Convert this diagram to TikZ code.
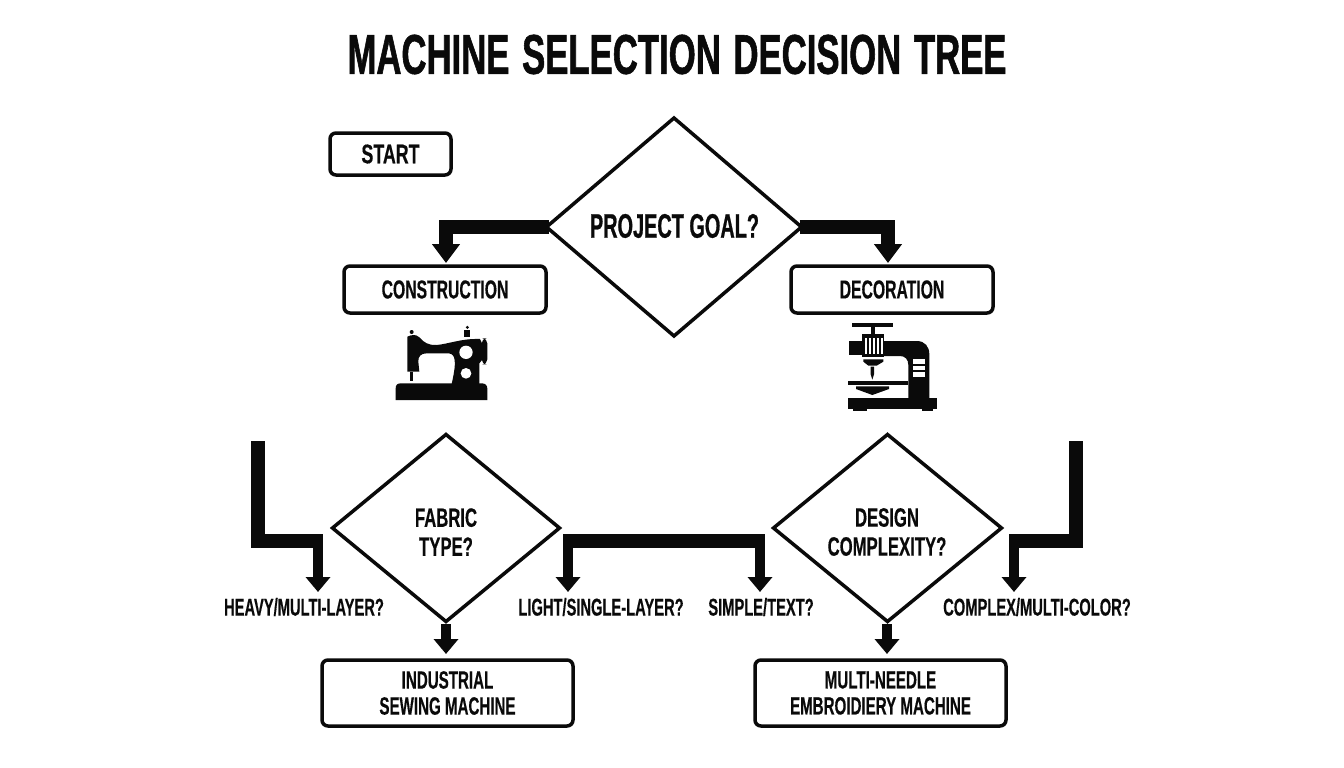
\documentclass[tikz,border=0pt]{standalone}
\usepackage{fontspec}
\setmainfont{Liberation Sans Bold}[FakeStretch=0.605,FakeBold=0.35]
\newfontface\titleface{Liberation Sans Bold}[FakeStretch=0.62,FakeBold=1.0]
\newfontface\startface{Liberation Sans Bold}[FakeStretch=0.66,FakeBold=0.35]
\newfontface\goalface{Liberation Sans Bold}[FakeStretch=0.585,FakeBold=0.6]
\newfontface\decface{Liberation Sans Bold}[FakeStretch=0.63,FakeBold=0.35]
\usetikzlibrary{arrows.meta,shapes.geometric}
\definecolor{ink}{HTML}{0A0A0A}
\tikzset{
 x=1pt,y=-1pt,
 every node/.style={text=ink},
 box/.style={draw=ink,line width=3.5pt,rounded corners=6pt,fill=white,align=center,inner sep=0pt,font=\fontsize{25}{26}\selectfont},
 dec/.style={diamond,draw=ink,line width=3.5pt,fill=white,inner sep=0pt,outer sep=0pt},
 dectext/.style={align=center,font=\decface\fontsize{26.5}{29}\selectfont},
 opt/.style={font=\fontsize{24.3}{26}\selectfont,inner sep=0pt},
 heavy/.style={draw=ink,line width=14pt},
 shaft/.style={draw=ink,line width=10.5pt,-{Triangle[width=24pt,length=15pt]}},
}
\begin{document}
\begin{tikzpicture}
\useasboundingbox (0,0) rectangle (1344,768);
\fill[white] (0,0) rectangle (1344,768);
\node[font=\titleface\fontsize{56}{58}\selectfont,inner sep=0pt] (title) at (677,54.5) {MACHINE\hspace{3pt} SELECTION\hspace{3pt} DECISION\hspace{3pt} TREE};
\node[box,minimum width=121pt,minimum height=42pt,font=\startface\fontsize{27}{28}\selectfont] (start) at (390.5,154) {START};
\node[dec,minimum width=255pt,minimum height=218pt] (goal) at (674,227) {};
\node[font=\goalface\fontsize{34}{36}\selectfont,inner sep=0pt] (goaltxt) at (674.5,226) {PROJECT GOAL?};
\node[box,minimum width=202pt,minimum height=47pt,font=\fontsize{26}{27}\selectfont] (cons) at (445,289.5) {CONSTRUCTION};
\node[box,minimum width=202pt,minimum height=47pt,font=\fontsize{26}{27}\selectfont] (deco) at (892,289.5) {DECORATION};
\node[dec,minimum width=227pt,minimum height=187pt] (fabric) at (446,528) {};
\node[dectext] (fabrictxt) at (446,532) {FABRIC\\TYPE?};
\node[dec,minimum width=228pt,minimum height=187pt] (design) at (887.5,528) {};
\node[dectext] (designtxt) at (887,532) {DESIGN\\COMPLEXITY?};
\node[opt] (heavylab) at (304,607) {HEAVY/MULTI-LAYER?};
\node[opt] (light) at (601,607) {LIGHT/SINGLE-LAYER?};
\node[opt] (simple) at (761,607) {SIMPLE/TEXT?};
\node[opt] (complex) at (1037,607) {COMPLEX/MULTI-COLOR?};
\node[box,minimum width=251pt,minimum height=66pt] (ind) at (447.5,693) {INDUSTRIAL\\SEWING MACHINE};
\node[box,minimum width=251pt,minimum height=66pt] (multi) at (880.5,693) {MULTI-NEEDLE\\EMBROIDIERY MACHINE};
% connectors
\draw[draw=ink,line width=14pt,-{Triangle[width=27pt,length=19pt]}] (goal.west) ++(2,0) -- (446,227) -- (446,263);
\draw[draw=ink,line width=14pt,-{Triangle[width=27pt,length=19pt]}] (goal.east) ++(-2,0) -- (888,227) -- (888,263);
\coordinate (l0) at (258,441);\coordinate (l1) at (258,541);\coordinate (l2) at (323,541);\coordinate (l3) at (318,541);
\draw[heavy] (l0) -- (l1) -- (l2);
\draw[shaft] (l3) -- (318,592);
\coordinate (m0) at (563,541);\coordinate (m1) at (765,541);
\draw[heavy] (m0) -- (m1);
\draw[shaft] (568,541) -- (568,592);
\draw[shaft] (760,541) -- (760,592);
\coordinate (r0) at (1076,441);\coordinate (r1) at (1076,541);\coordinate (r2) at (1009,541);
\draw[heavy] (r0) -- (r1) -- (r2);
\draw[shaft] (1014,541) -- (1014,592);
\coordinate (fb) at (446,624);\coordinate (db) at (887,624);
\draw[shaft] (fb) -- (446,654);
\draw[shaft] (db) -- (887,654);
% sewing machine icon
\begin{scope}[shift={(380,320)},scale=1/3]
 \fill[ink] (47,240) -- (47,205) .. controls (47,195) and (52,190) .. (62,190) -- (305,190) .. controls (316,190) and (322,196) .. (322,206) -- (322,240) -- cycle;
 \fill[ink] (82,155) -- (82,50) .. controls (95,44) and (108,42) .. (118,52) .. controls (132,68) and (145,76) .. (170,75) .. controls (205,72) and (245,55) .. (300,57) -- (306,70) -- (306,120) -- (298,130) -- (298,192) -- (215,192) .. controls (222,160) and (228,130) .. (222,112) .. controls (218,102) and (212,100) .. (200,100) -- (140,100) .. controls (122,100) and (114,110) .. (115,125) -- (118,155) -- cycle;
 \fill[ink,rounded corners=5pt] (305,55) rectangle (322,133);
 \fill[ink] (253,30) rectangle (270,50);
 \fill[ink] (262,22) circle (5);
 \fill[ink] (95,36) circle (6);
 \fill[ink] (91,155) rectangle (98,183);
 \fill[white] (258,97) circle (20);
 \fill[white] (258,160) circle (16);
\end{scope}
% embroidery machine icon
\begin{scope}[shift={(830,315)},scale=1/3]
 \fill[ink] (67,25) rectangle (188,35);
 \fill[ink] (122,35) rectangle (134,57);
 \fill[ink] (97,57) rectangle (162,125);
 \foreach \a in {104,116,128,140,152}{\fill[white] (\a,68) rectangle (\a+7,118);}
 \fill[ink] (58,78) rectangle (95,120);
 \fill[ink] (100,133) -- (160,133) -- (160,140) -- (140,152) -- (115,152) -- (100,140) -- cycle;
 \fill[ink] (122,155) -- (132,155) -- (132,178) -- (127,194) -- (122,178) -- cycle;
 \fill[ink] (162,78) -- (260,78) .. controls (285,78) and (298,95) .. (298,118) -- (298,255) -- (235,255) -- (235,150) .. controls (235,133) and (225,123) .. (210,123) -- (162,123) -- cycle;
 \fill[white] (250,133) rectangle (284,148);
 \fill[white] (250,152) rectangle (284,166);
 \fill[white] (250,171) rectangle (284,185);
 \fill[ink] (53,199) rectangle (235,209);
 \fill[ink] (78,214) -- (177,214) -- (177,222) -- (127,240) -- (78,222) -- cycle;
 \fill[ink] (53,250) rectangle (320,283);
 \fill[ink] (70,283) rectangle (110,288);
 \fill[ink] (275,283) rectangle (310,288);
\end{scope}
\end{tikzpicture}
\end{document}
